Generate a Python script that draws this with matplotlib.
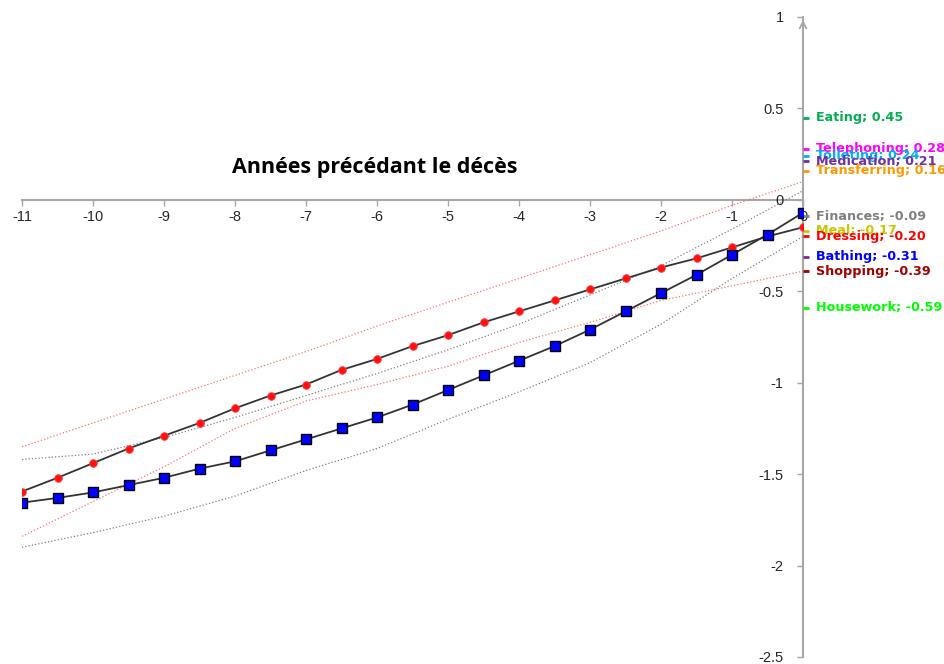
import matplotlib
matplotlib.use("Agg")
import matplotlib.pyplot as plt

plt.rcParams['axes.unicode_minus'] = False
plt.rcParams['font.family'] = ['Liberation Sans', 'DejaVu Sans']

# half-year steps, years before death
years_half = [-11, -10.5, -10, -9.5, -9, -8.5, -8, -7.5, -7, -6.5, -6, -5.5,
              -5, -4.5, -4, -3.5, -3, -2.5, -2, -1.5, -1, -0.5, 0]
red_model = [-1.595, -1.52, -1.44, -1.36, -1.29, -1.22, -1.14, -1.07, -1.01, -0.93,
             -0.87, -0.80, -0.74, -0.67, -0.61, -0.55, -0.49, -0.43, -0.37, -0.32,
             -0.26, -0.20, -0.15]
blue_model = [-1.656, -1.63, -1.60, -1.56, -1.52, -1.47, -1.43, -1.37, -1.31, -1.25,
              -1.19, -1.12, -1.04, -0.96, -0.88, -0.80, -0.71, -0.61, -0.51, -0.41,
              -0.30, -0.19, -0.07]

# confidence bands, whole years
years = [-11, -10, -9, -8, -7, -6, -5, -4, -3, -2, -1, 0]
red_upper = [-1.35, -1.22, -1.09, -0.96, -0.83, -0.69, -0.56, -0.43, -0.30, -0.17, -0.03, 0.10]
red_lower = [-1.84, -1.65, -1.46, -1.25, -1.10, -1.01, -0.91, -0.78, -0.67, -0.55, -0.47, -0.39]
gray_upper = [-1.42, -1.39, -1.30, -1.19, -1.07, -0.95, -0.82, -0.68, -0.52, -0.36, -0.16, 0.05]
gray_lower = [-1.90, -1.82, -1.73, -1.62, -1.48, -1.36, -1.20, -1.05, -0.89, -0.68, -0.43, -0.20]

# activities and their values at death
activities = ['Eating', 'Telephoning', 'Toileting', 'Medication', 'Transferring',
              'Finances', 'Meal', 'Dressing', 'Bathing', 'Shopping', 'Housework']
act_values = [0.45, 0.28, 0.24, 0.21, 0.16, -0.09, -0.17, -0.20, -0.31, -0.39, -0.59]
act_colors = ['#00B050', '#FF00FF', '#00B0F0', '#7030A0', '#FF9900',
              '#808080', '#C8C800', '#FF0000', '#0000FF', '#A00000', '#00FF00']
tick_colors = ['#00B050', '#FF00FF', '#00B0F0', '#7030A0', '#FF9900',
               '#808080', '#C8C800', '#FF0000', '#7030A0', '#A00000', '#00FF00']

fig = plt.figure(figsize=(9.44, 6.64), dpi=100)
ax = fig.add_axes([22 / 944, 7 / 664, 781 / 944, 640 / 664])
ax.set_xlim(-11, 0)
ax.set_ylim(-2.5, 1)

axis_col = '#A6A6A6'
for s in ['top', 'right']:
    ax.spines[s].set_visible(False)
ax.spines['bottom'].set_position(('data', 0))
ax.spines['left'].set_position(('data', 0))
for s in ['bottom', 'left']:
    ax.spines[s].set_color(axis_col)
    ax.spines[s].set_linewidth(1.5)
    ax.spines[s].set_zorder(1)
ax.set_xticks(range(-11, 1))
ax.set_yticks([-2.5, -2, -1.5, -1, -0.5, 0, 0.5, 1])
ax.set_yticklabels(['-2.5', '-2', '-1.5', '-1', '-0.5', '0', '0.5', '1'])
ax.tick_params(axis='both', colors=axis_col, labelcolor='#262626', labelsize=10.5,
               direction='out', length=4, width=1)
ax.tick_params(axis='y', pad=10)

# arrow on top of the vertical axis
ax.annotate('', xy=(0, 1.0), xytext=(0, 0.93),
            arrowprops=dict(arrowstyle='->', color=axis_col, lw=1.3,
                            mutation_scale=12))

# bands
ax.plot(years, red_upper, ls=':', color='#FF7070', lw=0.9, zorder=2)
ax.plot(years, red_lower, ls=':', color='#FF7070', lw=0.9, zorder=2)
ax.plot(years, gray_upper, ls=':', color='#808080', lw=0.9, zorder=2)
ax.plot(years, gray_lower, ls=':', color='#808080', lw=0.9, zorder=2)

# modelled trajectories
ax.plot(years_half, red_model, color='#333333', lw=1.3, marker='o', ms=5.5,
        mfc='#FF1010', mec='#FF4040', mew=0.6, zorder=4)
ax.plot(years_half, blue_model, color='#333333', lw=1.3, marker='s', ms=7,
        mfc='#0000FF', mec='black', mew=1.0, zorder=5)

# activity markers and labels on the axis
for name, v, c, tc in zip(activities, act_values, act_colors, tick_colors):
    ax.plot([0.0, 0.09], [v, v], color=tc, lw=2, solid_capstyle='butt',
            clip_on=False, zorder=3)
    ax.annotate(f'{name}; {v:.2f}', xy=(0, v), xytext=(9, 0),
                textcoords='offset points', va='center', ha='left',
                fontsize=9.2, fontweight='bold', color=c,
                family='DejaVu Sans', annotation_clip=False, zorder=6)

fig.text(375 / 944, 1 - 168 / 664, 'Années précédant le décès', ha='center',
         va='center', fontsize=15.5, fontweight='bold', family='Open Sans')

fig.savefig('out.png', dpi=100)
